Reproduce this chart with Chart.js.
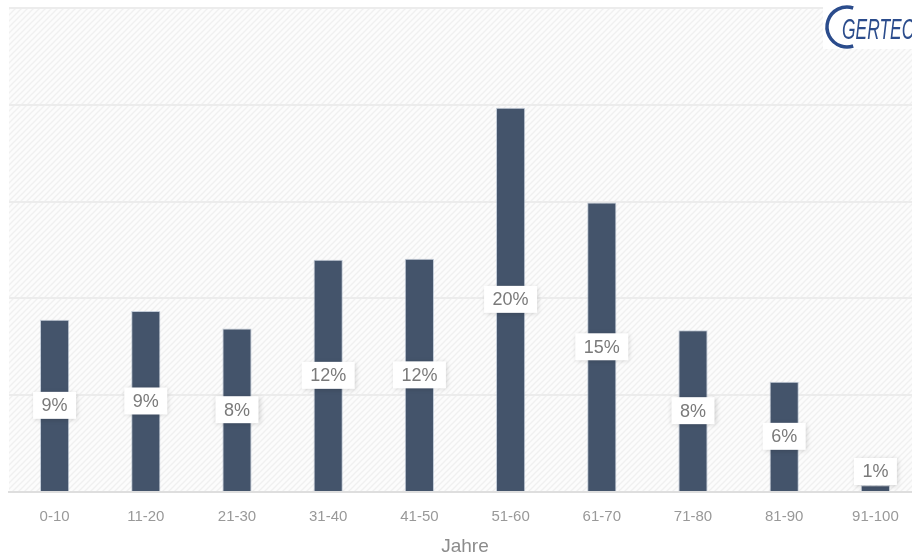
<!DOCTYPE html>
<html>
<head>
<meta charset="utf-8">
<script src="https://cdn.jsdelivr.net/npm/chart.js@4.4.1/dist/chart.umd.min.js"></script>
<style>
    html, body { margin: 0; padding: 0; overflow: hidden; background: #fff; }
    #wrap { position: relative; width: 921px; height: 560px; }
</style>
</head>
<body>
<div id="wrap"><canvas id="chart"></canvas></div>
<script>
// categories (age groups) and share of each group in percent
const categories = ["0-10", "11-20", "21-30", "31-40", "41-50", "51-60", "61-70", "71-80", "81-90", "91-100"];
const shares = [8.9, 9.35, 8.45, 12.0, 12.05, 19.85, 14.95, 8.35, 5.7, 0.35];
const shareLabels = ["9%", "9%", "8%", "12%", "12%", "20%", "15%", "8%", "6%", "1%"];
const yTicks = [0, 5, 10, 15, 20, 25];

// faint diagonal hatch behind the plot
const hatchBg = {
    id: "hatchBg",
    beforeDraw(chart) {
        const { ctx, chartArea: a } = chart;
        const tile = document.createElement("canvas");
        tile.width = 6; tile.height = 6;
        const t = tile.getContext("2d");
        t.fillStyle = "#fcfcfc";
        t.fillRect(0, 0, 6, 6);
        t.strokeStyle = "#f0f0f0";
        t.lineWidth = 1.3;
        t.beginPath();
        t.moveTo(-1, 7); t.lineTo(7, -1);
        t.moveTo(-4, 4); t.lineTo(4, -4);
        t.moveTo(2, 10); t.lineTo(10, 2);
        t.stroke();
        ctx.save();
        ctx.fillStyle = ctx.createPattern(tile, "repeat");
        ctx.fillRect(a.left, a.top, a.right - a.left, a.bottom - a.top);
        ctx.restore();
    }
};

// white boxes with the percentage in the middle of each bar
const boxLabels = {
    id: "boxLabels",
    afterDatasetsDraw(chart) {
        const { ctx, chartArea: a } = chart;
        const meta = chart.getDatasetMeta(0);
        ctx.save();
        ctx.font = "18px 'Liberation Sans', Arial, sans-serif";
        ctx.textAlign = "center";
        ctx.textBaseline = "middle";
        meta.data.forEach((bar, i) => {
            const txt = shareLabels[i];
            const w = ctx.measureText(txt).width + 17;
            const h = 27;
            let cy = (bar.y + bar.base) / 2;
            if (cy + h / 2 > a.bottom - 7) cy = a.bottom - 7 - h / 2;
            ctx.shadowColor = "rgba(0,0,0,0.18)";
            ctx.shadowBlur = 5;
            ctx.shadowOffsetX = 1;
            ctx.shadowOffsetY = 1;
            ctx.fillStyle = "#ffffff";
            ctx.fillRect(bar.x - w / 2, cy - h / 2, w, h);
            ctx.shadowColor = "transparent";
            ctx.fillStyle = "#7a7a7a";
            ctx.fillText(txt, bar.x, cy + 1);
        });
        ctx.restore();
    }
};

// GERTEC logo, top right
const logo = {
    id: "logo",
    afterDraw(chart) {
        const ctx = chart.ctx;
        ctx.save();
        ctx.fillStyle = "#ffffff";
        ctx.fillRect(823, 0, 100, 49);
        ctx.strokeStyle = "#2b4c8c";
        ctx.lineWidth = 3.5;
        ctx.beginPath();
        ctx.arc(847, 27, 20, -Math.PI * 0.4, Math.PI * 0.4, true);
        ctx.stroke();
        ctx.translate(842, 39);
        ctx.scale(0.6, 1);
        ctx.fillStyle = "#2b4c8c";
        ctx.font = "italic 29px 'Liberation Sans', Arial, sans-serif";
        ctx.textBaseline = "alphabetic";
        ctx.fillText("GERTEC", 0, 0);
        ctx.restore();
    }
};

new Chart(document.getElementById("chart"), {
    type: "bar",
    data: {
        labels: categories,
        datasets: [{
            data: shares,
            backgroundColor: "#44546b",
            borderColor: "rgba(160,175,195,0.6)",
            borderWidth: 1,
            borderSkipped: "bottom",
            barPercentage: 0.32,
            categoryPercentage: 1
        }]
    },
    options: {
        responsive: true,
        maintainAspectRatio: false,
        animation: false,
        layout: { padding: { left: 9, top: 8, right: 0, bottom: 0 } },
        plugins: { legend: { display: false }, tooltip: { enabled: false } },
        scales: {
            x: {
                grid: { display: false, drawTicks: false },
                border: { display: true, color: "#dedede", width: 2 },
                ticks: {
                    color: "#999999",
                    font: { family: "'Liberation Sans', Arial, sans-serif", size: 15 },
                    padding: 16
                },
                title: {
                    display: true,
                    text: "Jahre",
                    color: "#8c8c8c",
                    font: { family: "'Liberation Sans', Arial, sans-serif", size: 19 },
                    padding: { top: 0, bottom: 2 }
                },
                afterFit: s => { s.height = 68; }
            },
            y: {
                min: yTicks[0],
                max: yTicks[yTicks.length - 1],
                afterBuildTicks: s => { s.ticks = yTicks.map(v => ({ value: v })); },
                grid: { color: "#ececec", lineWidth: 2, drawTicks: false },
                border: { display: false },
                ticks: { display: false },
                afterFit: s => { s.width = 0; }
            }
        }
    },
    plugins: [hatchBg, boxLabels, logo]
});
</script>
</body>
</html>
